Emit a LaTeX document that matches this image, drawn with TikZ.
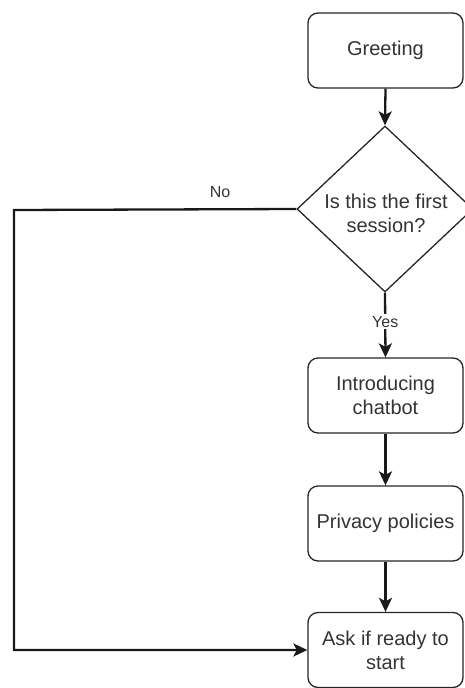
\documentclass[tikz,border=0pt]{standalone}
\usepackage{fontspec}
\setmainfont{Liberation Sans}
\usetikzlibrary{shapes.geometric,arrows.meta}
\definecolor{ink}{HTML}{333333}
\tikzset{
  stepbox/.style={draw=black!85, line width=1.3pt, rounded corners=10pt,
    minimum width=155pt, minimum height=75pt, align=center,
    font=\fontsize{20}{24}\selectfont, text=ink},
  decision/.style={draw=black!85, line width=1.3pt, diamond,
    minimum width=176pt, minimum height=166pt, inner sep=0pt},
  qtext/.style={align=center, font=\fontsize{20}{24}\selectfont, text=ink},
  flow/.style={draw=black!90, line width=2.3pt,
    -{Stealth[length=14pt, width=13pt, inset=3.5pt]}},
  edgelabel/.style={font=\fontsize{16}{19}\selectfont, text=ink, inner sep=2pt}
}
\begin{document}
\begin{tikzpicture}[x=1pt, y=-1pt]
  \useasboundingbox (0,0) rectangle (465,688);

  % process steps
  \node[stepbox] (greet) at (385.5,50.5) {Greeting};
  \node[decision] (q) at (385,209) {};
  \node[qtext] (qt) at (386,213) {Is this the first\\session?};
  \node[stepbox] (intro) at (385.5,395.5) {Introducing\\chatbot};
  \node[stepbox] (priv) at (385.5,523.5) {Privacy policies};
  \node[stepbox] (ask) at (385.5,650) {Ask if ready to\\start};

  % turning point of the "No" branch
  \coordinate (corner) at (14,210);

  % connectors
  \draw[flow] (greet.south) -- (q.north);
  \draw[flow] (q.south) -- node[edgelabel, fill=white, pos=0.45] (yes) {Yes} (intro.north);
  \draw[flow] (intro.south) -- (priv.north);
  \draw[flow] (priv.south) -- (ask.north);
  \draw[flow] (q.west) -- (corner) |- (ask.west);
  \node[edgelabel] (no) at (220,192) {No};
\end{tikzpicture}
\end{document}
